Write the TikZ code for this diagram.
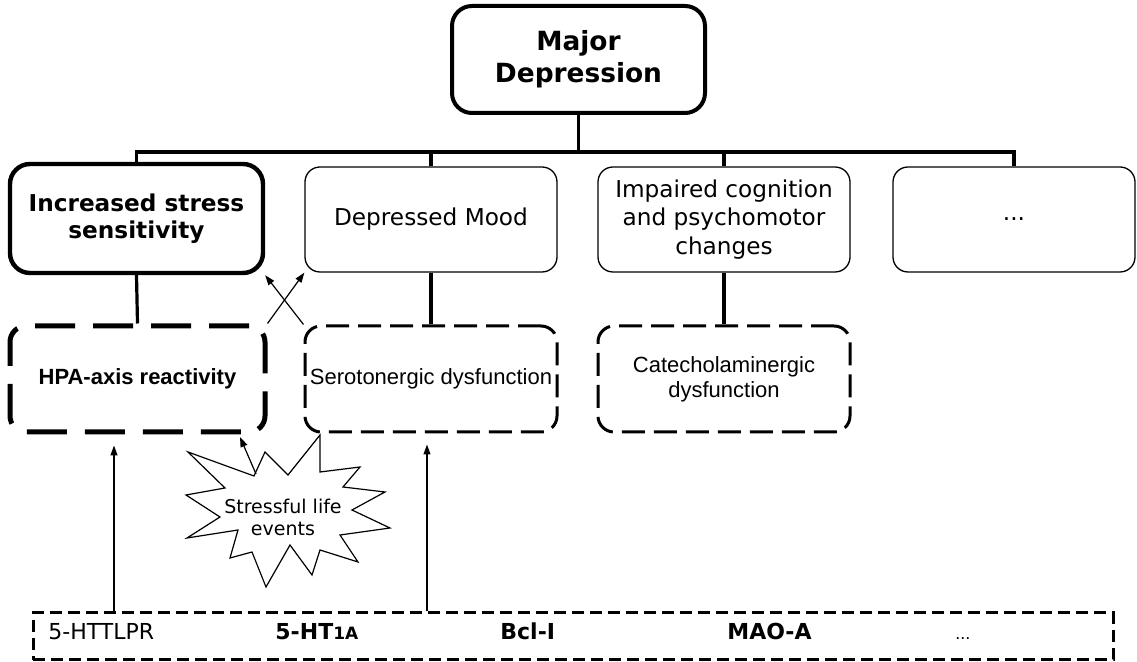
\documentclass[tikz,border=0pt]{standalone}
\usepackage{fontspec}
\setmainfont{DejaVu Sans}
\newfontfamily\arialfont{Liberation Sans}
\usetikzlibrary{arrows.meta}

\tikzset{
  box/.style={draw, rounded corners=7.5pt, line width=0.65pt, align=center, inner sep=0pt,
    minimum width=126pt, minimum height=52.5pt, font=\fontsize{11.6}{14.2}\selectfont},
  bigbox/.style={box, line width=2.2pt, rounded corners=10pt, font=\bfseries\fontsize{11.6}{13.5}\selectfont},
  mech/.style={draw, rounded corners=8pt, dash pattern=on 11.5pt off 4.5pt, line width=1.5pt, align=center,
    inner sep=0pt, minimum width=126pt, minimum height=53pt, font=\arialfont\fontsize{11}{12.5}\selectfont},
  tree/.style={line width=1.6pt},
  arr/.style={line width=0.6pt, -{Triangle[length=5pt,width=3.5pt]}},
  gene/.style={anchor=base west, inner sep=0pt, font=\fontsize{11}{13}\selectfont}
}

\begin{document}
\begin{tikzpicture}[x=0.5pt,y=-0.5pt]
\useasboundingbox (0,0) rectangle (1137,662);

% top
\node[bigbox, line width=2pt, minimum width=126.5pt, minimum height=53.5pt,
  font=\bfseries\fontsize{13.2}{16}\selectfont] (major) at (578.5,59.5) {Major\\Depression};

% symptoms
\node[bigbox, minimum width=126.5pt, minimum height=54.5pt] (inc) at (136.5,218.5) {Increased stress\\sensitivity};
\node[box] (mood) at (431,219.5) {Depressed Mood};
\node[box] (cogn) at (724,219.5) {Impaired cognition\\and psychomotor\\changes};
\node[box, minimum width=121pt] (more) at (1014,219.5) {...};

% mechanisms
\node[mech, line width=2.5pt, dash pattern=on 20pt off 9pt, minimum width=127.5pt,
  font=\arialfont\bfseries\fontsize{11}{12.5}\selectfont] (hpa) at (137.5,379) {HPA-axis reactivity};
\node[mech] (sero) at (431,379) {Serotonergic dysfunction};
\node[mech] (cate) at (724,379) {Catecholaminergic\\dysfunction};

% genes
\node[draw, line width=1.5pt, dash pattern=on 6pt off 3pt, minimum width=540pt, minimum height=23.5pt,
  inner sep=0pt] (genes) at (573,636.5) {};
\node[gene] (httlpr) at (48,640) {5-HTTLPR};
\node[gene, font=\bfseries\fontsize{11}{13}\selectfont] (htoa) at (275,640) {5-HT{\fontsize{8.5}{10}\selectfont 1A}};
\node[gene, font=\bfseries\fontsize{11}{13}\selectfont] (bcl) at (500,640) {Bcl-I};
\node[gene, font=\bfseries\fontsize{11}{13}\selectfont] (mao) at (727,640) {MAO-A};
\node[gene, font=\arialfont\fontsize{9}{11}\selectfont] (etc) at (955,640) {...};

% tree
\coordinate (bar) at (0,152);
\draw[tree] (major.south) -- (major.south |- bar);
\draw[tree] (inc.north) -- (inc.north |- bar) -- (more.north |- bar) -- (more.north);
\draw[tree] (mood.north) -- (mood.north |- bar);
\draw[tree] (cogn.north) -- (cogn.north |- bar);
\draw[tree] (inc.south) -- (hpa.north);
\draw[tree] (mood.south) -- (sero.north);
\draw[tree] (cogn.south) -- (cate.north);

\draw[arr] (hpa.north east) -- (mood.south west);
\draw[arr] (sero.north west) -- (inc.south east);

% stressful life events
\draw[line width=0.6pt] (188,452) -- (254,476) -- (265,452) -- (288,475) -- (320,435) -- (320,472)
  -- (360,467) -- (343,487) -- (385,492) -- (352,510) -- (390,528) -- (340,535) -- (358,562)
  -- (320,550) -- (312,575) -- (290,545) -- (266,587) -- (252,552) -- (230,558) -- (238,530)
  -- (187,538) -- (220,517) -- (186,495) -- (225,488) -- cycle;
\node[align=center, inner sep=0pt, font=\fontsize{9.5}{11}\selectfont] (stress) at (283,517) {Stressful life\\events};
\coordinate (spike) at (256,474);
\coordinate (hpatip) at (240,437);
\draw[arr] (spike) -- (hpatip);

\coordinate (g1) at (114,0);
\coordinate (g2) at (427,0);
\draw[arr, shorten >=5.5pt] (genes.north -| g1) -- (hpa.south -| g1);
\draw[arr, shorten >=5.5pt] (genes.north -| g2) -- (sero.south -| g2);

\end{tikzpicture}
\end{document}
